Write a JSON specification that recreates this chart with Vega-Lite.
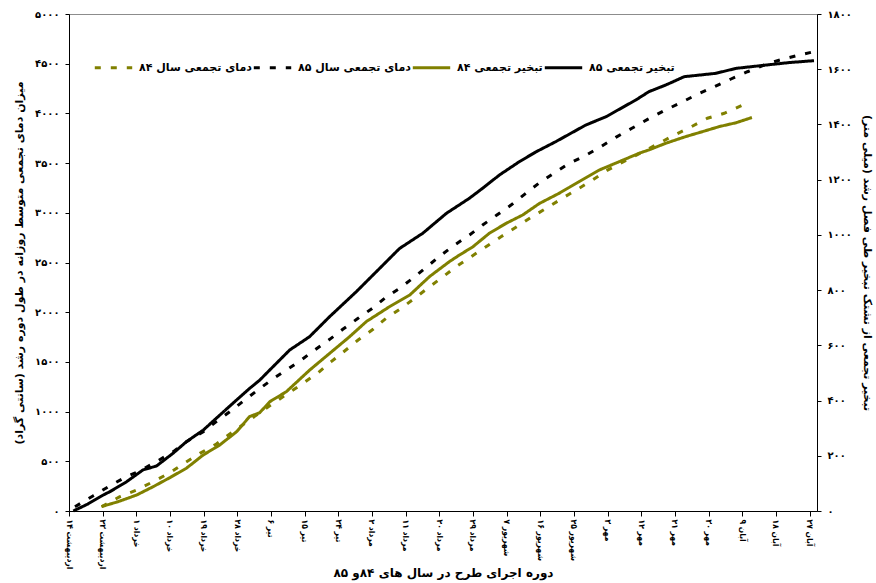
{
  "$schema": "https://vega.github.io/schema/vega-lite/v6.json",
  "width": 748,
  "height": 497,
  "autosize": {"type": "none"},
  "padding": {"left": 69, "top": 14, "right": 59, "bottom": 72},
  "background": "white",
  "config": {
    "font": "DejaVu Sans",
    "view": {"stroke": "#8c8c8c", "strokeWidth": 1},
    "locale": {
      "number": {"decimal": ".", "thousands": "", "grouping": [3], "currency": ["", ""], "numerals": ["۰", "۱", "۲", "۳", "۴", "۵", "۶", "۷", "۸", "۹"]}
    },
    "axis": {
      "grid": false,
      "domainColor": "black",
      "tickColor": "black",
      "labelColor": "black",
      "titleColor": "black",
      "labelFont": "DejaVu Sans",
      "titleFont": "DejaVu Sans",
      "labelFontWeight": "bold",
      "titleFontWeight": "bold",
      "labelFontSize": 10,
      "titleFontSize": 11
    }
  },
  "data": {
    "values": [
      {"s": "temp84", "d": 8.7, "v": 43}, {"s": "temp84", "d": 13.6, "v": 144}, {"s": "temp84", "d": 18.1, "v": 211}, {"s": "temp84", "d": 22.5, "v": 295}, {"s": "temp84", "d": 27.0, "v": 385}, {"s": "temp84", "d": 31.0, "v": 486}, {"s": "temp84", "d": 35.0, "v": 580}, {"s": "temp84", "d": 39.4, "v": 674}, {"s": "temp84", "d": 43.0, "v": 775}, {"s": "temp84", "d": 47.0, "v": 882}, {"s": "temp84", "d": 51.0, "v": 989}, {"s": "temp84", "d": 54.6, "v": 1083}, {"s": "temp84", "d": 58.6, "v": 1184}, {"s": "temp84", "d": 62.6, "v": 1285}, {"s": "temp84", "d": 66.6, "v": 1391}, {"s": "temp84", "d": 70.1, "v": 1502}, {"s": "temp84", "d": 73.7, "v": 1610}, {"s": "temp84", "d": 77.3, "v": 1720}, {"s": "temp84", "d": 81.3, "v": 1828}, {"s": "temp84", "d": 84.8, "v": 1939}, {"s": "temp84", "d": 88.8, "v": 2039}, {"s": "temp84", "d": 92.4, "v": 2140}, {"s": "temp84", "d": 96.2, "v": 2250}, {"s": "temp84", "d": 99.8, "v": 2351}, {"s": "temp84", "d": 103.5, "v": 2458}, {"s": "temp84", "d": 107.5, "v": 2558}, {"s": "temp84", "d": 111.5, "v": 2659}, {"s": "temp84", "d": 115.5, "v": 2759}, {"s": "temp84", "d": 119.5, "v": 2854}, {"s": "temp84", "d": 123.6, "v": 2955}, {"s": "temp84", "d": 127.6, "v": 3045}, {"s": "temp84", "d": 131.6, "v": 3139}, {"s": "temp84", "d": 135.6, "v": 3229}, {"s": "temp84", "d": 140.0, "v": 3330}, {"s": "temp84", "d": 144.0, "v": 3430}, {"s": "temp84", "d": 148.4, "v": 3517}, {"s": "temp84", "d": 152.9, "v": 3604}, {"s": "temp84", "d": 157.4, "v": 3692}, {"s": "temp84", "d": 161.4, "v": 3773}, {"s": "temp84", "d": 166.1, "v": 3860}, {"s": "temp84", "d": 170.7, "v": 3951}, {"s": "temp84", "d": 175.2, "v": 4001}, {"s": "temp84", "d": 180.5, "v": 4090},
      {"s": "temp85", "d": 1.6, "v": 43}, {"s": "temp85", "d": 6.5, "v": 154}, {"s": "temp85", "d": 10.5, "v": 244}, {"s": "temp85", "d": 15.0, "v": 339}, {"s": "temp85", "d": 19.4, "v": 412}, {"s": "temp85", "d": 23.8, "v": 506}, {"s": "temp85", "d": 27.9, "v": 597}, {"s": "temp85", "d": 31.4, "v": 697}, {"s": "temp85", "d": 35.9, "v": 798}, {"s": "temp85", "d": 39.4, "v": 899}, {"s": "temp85", "d": 43.0, "v": 999}, {"s": "temp85", "d": 47.0, "v": 1117}, {"s": "temp85", "d": 50.5, "v": 1217}, {"s": "temp85", "d": 54.1, "v": 1318}, {"s": "temp85", "d": 58.1, "v": 1418}, {"s": "temp85", "d": 62.1, "v": 1519}, {"s": "temp85", "d": 65.7, "v": 1620}, {"s": "temp85", "d": 69.7, "v": 1727}, {"s": "temp85", "d": 73.2, "v": 1828}, {"s": "temp85", "d": 77.3, "v": 1939}, {"s": "temp85", "d": 81.1, "v": 2039}, {"s": "temp85", "d": 84.6, "v": 2146}, {"s": "temp85", "d": 88.4, "v": 2240}, {"s": "temp85", "d": 92.1, "v": 2347}, {"s": "temp85", "d": 95.7, "v": 2458}, {"s": "temp85", "d": 99.5, "v": 2575}, {"s": "temp85", "d": 103.1, "v": 2676}, {"s": "temp85", "d": 107.1, "v": 2777}, {"s": "temp85", "d": 110.6, "v": 2877}, {"s": "temp85", "d": 114.4, "v": 2978}, {"s": "temp85", "d": 118.2, "v": 3078}, {"s": "temp85", "d": 121.8, "v": 3186}, {"s": "temp85", "d": 125.6, "v": 3297}, {"s": "temp85", "d": 129.3, "v": 3390}, {"s": "temp85", "d": 133.3, "v": 3488}, {"s": "temp85", "d": 137.8, "v": 3571}, {"s": "temp85", "d": 142.2, "v": 3665}, {"s": "temp85", "d": 146.2, "v": 3759}, {"s": "temp85", "d": 150.5, "v": 3850}, {"s": "temp85", "d": 154.7, "v": 3940}, {"s": "temp85", "d": 159.1, "v": 4027}, {"s": "temp85", "d": 163.6, "v": 4108}, {"s": "temp85", "d": 168.0, "v": 4192}, {"s": "temp85", "d": 172.5, "v": 4268}, {"s": "temp85", "d": 177.0, "v": 4346}, {"s": "temp85", "d": 181.4, "v": 4419}, {"s": "temp85", "d": 186.3, "v": 4494}, {"s": "temp85", "d": 190.7, "v": 4544}, {"s": "temp85", "d": 195.2, "v": 4587}, {"s": "temp85", "d": 199.2, "v": 4621},
      {"s": "evap84", "d": 8.7, "v": 16}, {"s": "evap84", "d": 13.2, "v": 34}, {"s": "evap84", "d": 18.1, "v": 58}, {"s": "evap84", "d": 22.5, "v": 88}, {"s": "evap84", "d": 27.0, "v": 121}, {"s": "evap84", "d": 31.4, "v": 155}, {"s": "evap84", "d": 35.9, "v": 203}, {"s": "evap84", "d": 40.3, "v": 239}, {"s": "evap84", "d": 44.8, "v": 287}, {"s": "evap84", "d": 48.3, "v": 342}, {"s": "evap84", "d": 51.0, "v": 356}, {"s": "evap84", "d": 53.7, "v": 396}, {"s": "evap84", "d": 58.1, "v": 432}, {"s": "evap84", "d": 64.4, "v": 511}, {"s": "evap84", "d": 69.7, "v": 571}, {"s": "evap84", "d": 75.0, "v": 631}, {"s": "evap84", "d": 79.5, "v": 686}, {"s": "evap84", "d": 85.7, "v": 740}, {"s": "evap84", "d": 91.1, "v": 782}, {"s": "evap84", "d": 96.4, "v": 849}, {"s": "evap84", "d": 101.7, "v": 903}, {"s": "evap84", "d": 104.4, "v": 927}, {"s": "evap84", "d": 108.0, "v": 957}, {"s": "evap84", "d": 112.4, "v": 1006}, {"s": "evap84", "d": 116.9, "v": 1042}, {"s": "evap84", "d": 121.3, "v": 1072}, {"s": "evap84", "d": 125.8, "v": 1114}, {"s": "evap84", "d": 131.1, "v": 1151}, {"s": "evap84", "d": 136.4, "v": 1193}, {"s": "evap84", "d": 141.8, "v": 1235}, {"s": "evap84", "d": 147.1, "v": 1265}, {"s": "evap84", "d": 152.5, "v": 1296}, {"s": "evap84", "d": 155.1, "v": 1308}, {"s": "evap84", "d": 159.6, "v": 1332}, {"s": "evap84", "d": 164.9, "v": 1356}, {"s": "evap84", "d": 169.4, "v": 1374}, {"s": "evap84", "d": 173.8, "v": 1392}, {"s": "evap84", "d": 178.3, "v": 1406}, {"s": "evap84", "d": 182.6, "v": 1425},
      {"s": "evap85", "d": 1.15, "v": 0}, {"s": "evap85", "d": 5.0, "v": 25}, {"s": "evap85", "d": 9.16, "v": 58}, {"s": "evap85", "d": 10.95, "v": 70}, {"s": "evap85", "d": 15.4, "v": 106}, {"s": "evap85", "d": 19.8, "v": 149}, {"s": "evap85", "d": 23.4, "v": 163}, {"s": "evap85", "d": 27.9, "v": 210}, {"s": "evap85", "d": 31.4, "v": 251}, {"s": "evap85", "d": 35.9, "v": 293}, {"s": "evap85", "d": 39.4, "v": 336}, {"s": "evap85", "d": 44.8, "v": 402}, {"s": "evap85", "d": 48.3, "v": 444}, {"s": "evap85", "d": 51.0, "v": 474}, {"s": "evap85", "d": 53.7, "v": 511}, {"s": "evap85", "d": 59.0, "v": 583}, {"s": "evap85", "d": 64.3, "v": 631}, {"s": "evap85", "d": 69.7, "v": 704}, {"s": "evap85", "d": 76.8, "v": 794}, {"s": "evap85", "d": 82.2, "v": 867}, {"s": "evap85", "d": 88.4, "v": 951}, {"s": "evap85", "d": 94.6, "v": 1006}, {"s": "evap85", "d": 100.9, "v": 1078}, {"s": "evap85", "d": 107.1, "v": 1133}, {"s": "evap85", "d": 110.6, "v": 1169}, {"s": "evap85", "d": 115.1, "v": 1217}, {"s": "evap85", "d": 120.4, "v": 1265}, {"s": "evap85", "d": 124.9, "v": 1301}, {"s": "evap85", "d": 130.2, "v": 1338}, {"s": "evap85", "d": 138.2, "v": 1398}, {"s": "evap85", "d": 143.6, "v": 1428}, {"s": "evap85", "d": 151.6, "v": 1489}, {"s": "evap85", "d": 155.1, "v": 1519}, {"s": "evap85", "d": 159.6, "v": 1543}, {"s": "evap85", "d": 164.5, "v": 1573}, {"s": "evap85", "d": 172.9, "v": 1585}, {"s": "evap85", "d": 178.3, "v": 1603}, {"s": "evap85", "d": 186.3, "v": 1615}, {"s": "evap85", "d": 192.5, "v": 1624}, {"s": "evap85", "d": 199.2, "v": 1631}
    ]
  },
  "encoding": {
    "x": {
      "field": "d",
      "type": "quantitative",
      "scale": {"domain": [0, 200], "nice": false, "zero": false},
      "axis": {
        "title": "دوره اجرای طرح در سال های ۸۴و ۸۵",
        "titleFontSize": 12,
        "titleY": 61,
        "titleBaseline": "middle",
        "values": [0, 9, 18, 27, 36, 45, 54, 63, 72, 81, 90, 99, 108, 117, 126, 135, 144, 153, 162, 171, 180, 189, 198],
        "labelExpr": "['اردیبهشت ۱۴','اردیبهشت ۲۳','خرداد ۱','خرداد ۱۰','خرداد ۱۹','خرداد ۲۸','تیر ۶','تیر ۱۵','تیر ۲۴','مرداد ۲','مرداد ۱۱','مرداد ۲۰','مرداد ۲۹','شهریور ۷','شهریور ۱۶','شهریور ۲۵','مهر ۳','مهر ۱۲','مهر ۲۱','مهر ۳۰','آبان ۹','آبان ۱۸','آبان ۲۷'][round(datum.value/9)]",
        "labelAngle": 90,
        "labelFont": "DejaVu Sans Condensed, DejaVu Sans",
        "labelFontSize": 8.5,
        "labelOverlap": false,
        "labelBound": false,
        "labelFlush": false,
        "tickSize": 5,
        "labelPadding": 3
      }
    },
    "color": {
      "field": "s",
      "type": "nominal",
      "scale": {"domain": ["temp84", "temp85", "evap84", "evap85"], "range": ["#808000", "#000000", "#808000", "#000000"]},
      "legend": {
        "title": null,
        "orient": "none",
        "direction": "horizontal",
        "legendX": 24,
        "legendY": 33,
        "symbolType": "stroke",
        "symbolSize": 1400,
        "labelFontSize": 11,
        "labelFontWeight": "bold",
        "labelColor": "black",
        "labelFont": "DejaVu Sans",
        "columnPadding": -19,
        "labelOffset": 5,
        "labelExpr": "{'temp84':'دمای تجمعی سال ۸۴','temp85':'دمای تجمعی سال ۸۵','evap84':'تبخیر تجمعی ۸۴','evap85':'تبخیر تجمعی ۸۵'}[datum.value]"
      }
    },
    "strokeDash": {
      "field": "s",
      "type": "nominal",
      "scale": {"domain": ["temp84", "temp85", "evap84", "evap85"], "range": [[6, 10], [6, 10], [1, 0], [1, 0]]},
      "legend": {"title": null}
    },
    "strokeWidth": {
      "field": "s",
      "type": "nominal",
      "scale": {"domain": ["temp84", "temp85", "evap84", "evap85"], "range": [3, 3, 1.5, 2.6]},
      "legend": {"title": null}
    }
  },
  "layer": [
    {
      "transform": [{"filter": "indexof(datum.s, 'temp') == 0"}],
      "mark": {"type": "line", "strokeCap": "butt"},
      "encoding": {
        "y": {
          "field": "v",
          "type": "quantitative",
          "scale": {"domain": [0, 5000], "nice": false},
          "axis": {
            "orient": "left",
            "title": "میزان دمای تجمعی متوسط روزانه در طول دوره رشد (سانتی گراد)‏",
            "values": [0, 500, 1000, 1500, 2000, 2500, 3000, 3500, 4000, 4500, 5000],
            "format": "d",
            "tickSize": 4,
            "labelPadding": 6,
            "titlePadding": 10
          }
        }
      }
    },
    {
      "transform": [{"filter": "indexof(datum.s, 'evap') == 0"}],
      "mark": {"type": "line", "strokeCap": "butt"},
      "encoding": {
        "y": {
          "field": "v",
          "type": "quantitative",
          "scale": {"domain": [0, 1800], "nice": false},
          "axis": {
            "orient": "right",
            "title": "تبخیر تجمعی از تشتک تبخیر طی فصل رشد (میلی متر)‏",
            "values": [0, 200, 400, 600, 800, 1000, 1200, 1400, 1600, 1800],
            "format": "d",
            "tickSize": 4,
            "labelPadding": 6,
            "titlePadding": 10
          }
        }
      }
    }
  ],
  "resolve": {"scale": {"y": "independent"}}
}
